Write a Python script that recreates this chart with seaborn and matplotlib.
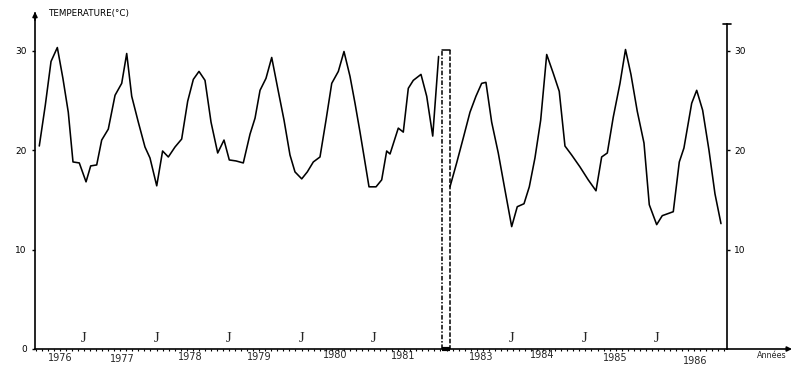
import numpy as np
import pandas as pd
import matplotlib
matplotlib.use("Agg")
import matplotlib.pyplot as plt
from matplotlib.ticker import MultipleLocator
import seaborn as sns

# ---------------- data ----------------
# segment 1976-1981 : decimal year, temperature (°C)
seg_a_time = [1975.883, 1975.966, 1976.045, 1976.132, 1976.209, 1976.283, 1976.348, 1976.435,
              1976.528, 1976.592, 1976.675, 1976.744, 1976.835, 1976.928, 1977.020, 1977.089,
              1977.158, 1977.249, 1977.341, 1977.410, 1977.503, 1977.584, 1977.663, 1977.755,
              1977.847, 1977.930, 1978.008, 1978.086, 1978.169, 1978.252, 1978.344, 1978.431,
              1978.504, 1978.597, 1978.697, 1978.790, 1978.859, 1978.928, 1979.010, 1979.089,
              1979.180, 1979.259, 1979.341, 1979.410, 1979.503, 1979.580, 1979.663, 1979.755,
              1979.838, 1979.917, 1980.008, 1980.086, 1980.169, 1980.238, 1980.307, 1980.366,
              1980.431, 1980.528, 1980.606, 1980.675, 1980.721, 1980.835, 1980.904, 1980.973,
              1981.042, 1981.148, 1981.227, 1981.310, 1981.391]
seg_a_temp = [20.4, 24.5, 28.9, 30.3, 27.2, 23.8, 18.8, 18.7,
              16.8, 18.4, 18.5, 21.0, 22.1, 25.5, 26.7, 29.7,
              25.4, 22.8, 20.3, 19.2, 16.4, 19.9, 19.3, 20.3,
              21.1, 24.9, 27.1, 27.9, 27.0, 22.8, 19.7, 21.0,
              19.0, 18.9, 18.7, 21.6, 23.2, 26.0, 27.2, 29.3,
              25.9, 23.0, 19.5, 17.8, 17.1, 17.8, 18.8, 19.3,
              23.0, 26.7, 27.9, 29.9, 27.4, 24.7, 21.8, 19.2,
              16.3, 16.3, 17.0, 19.9, 19.6, 22.2, 21.8, 26.2,
              27.0, 27.6, 25.4, 21.4, 29.4]

# segment 1982-1986
seg_b_time = [1982.645, 1982.737, 1982.828, 1982.921, 1983.003, 1983.082, 1983.141, 1983.220,
              1983.311, 1983.403, 1983.496, 1983.573, 1983.666, 1983.739, 1983.817, 1983.896,
              1983.979, 1984.070, 1984.152, 1984.231, 1984.323, 1984.438, 1984.552, 1984.659,
              1984.737, 1984.815, 1984.897, 1984.990, 1985.066, 1985.141, 1985.228, 1985.321,
              1985.394, 1985.496, 1985.573, 1985.725, 1985.808, 1985.872, 1985.979, 1986.048,
              1986.130, 1986.217, 1986.300, 1986.383]
seg_b_temp = [16.3, 18.7, 21.2, 23.8, 25.4, 26.7, 26.8, 22.8,
              19.7, 16.0, 12.3, 14.3, 14.6, 16.3, 19.2, 23.0,
              29.6, 27.7, 25.9, 20.4, 19.5, 18.3, 17.0, 15.9,
              19.3, 19.7, 23.3, 26.7, 30.1, 27.6, 23.9, 20.7,
              14.5, 12.5, 13.4, 13.8, 18.8, 20.2, 24.7, 26.0,
              24.0, 20.0, 15.6, 12.6]

GAP_YEARS = 1.097          # missing period compressed on the axis (break)

year_labels = ["1976", "1977", "1978", "1979", "1980", "1981", "1983", "1984", "1985", "1986"]
july_a = [1976.5, 1977.5, 1978.5, 1979.5, 1980.5]
july_b = [1983.5, 1984.5, 1985.5]
ytick_vals = [0, 10, 20, 30]
ytick_right = [10, 20, 30]

# ---------------- layout ----------------
year_label_x = [1976.169, 1977.024, 1977.962, 1978.914, 1979.962, 1980.900,
                1981.976, 1982.817, 1983.824, 1984.928]       # display positions
year_label_dy = [-9, -10, -8, -8, -6, -7, -8, -6, -9, -12]    # pixels below axis
X_MIN, X_MAX = 1975.824, 1985.369
X_ARROW = 1986.266
Y_MAX = 33.77
BREAK_L, BREAK_R, BREAK_TOP = 1981.431, 1981.548, 30.05
RIGHT_TOP = 32.66

sns.set_style("white")
plt.rcParams["font.family"] = ["DejaVu Sans"]

df = pd.DataFrame({
    "x": seg_a_time + [t - GAP_YEARS for t in seg_b_time],
    "temp": seg_a_temp + seg_b_temp,
    "seg": ["a"] * len(seg_a_time) + ["b"] * len(seg_b_time),
})

fig = plt.figure(figsize=(8, 3.74), dpi=100)
ax = fig.add_axes([35 / 800, 25 / 374, 692 / 800, 336 / 374])
sns.lineplot(data=df, x="x", y="temp", units="seg", estimator=None, sort=False,
             color="black", lw=1.15, ax=ax, legend=False)

ax.set_xlim(X_MIN, X_MAX)
ax.set_ylim(0, Y_MAX)
ax.set_xlabel("")
ax.set_ylabel("")

ax.spines["top"].set_visible(False)
for s in ["left", "bottom", "right"]:
    ax.spines[s].set_color("black")
    ax.spines[s].set_linewidth(1.2)
ax.spines["right"].set_bounds(0, RIGHT_TOP)

ax.set_yticks(ytick_vals)
ax.set_yticklabels([str(v) for v in ytick_vals], fontsize=6.5)
ax.tick_params(axis="y", which="major", direction="out", length=2, width=1, pad=4,
               left=True, right=False, colors="black")
ax2 = ax.twinx()
ax2.set_ylim(0, Y_MAX)
ax2.set_yticks(ytick_right)
ax2.set_yticklabels([str(v) for v in ytick_right], fontsize=6.5)
ax2.tick_params(axis="y", direction="out", length=2, width=1, pad=3, colors="black")
for s in ["top", "left", "bottom", "right"]:
    ax2.spines[s].set_visible(False)

ax.set_xticks([])
ax.xaxis.set_minor_locator(MultipleLocator(1 / 12))
ax.tick_params(axis="x", which="minor", bottom=True, direction="out", length=1.5,
               width=0.8, colors="black")

# cap of the right axis
ax.plot([X_MAX - 0.05, X_MAX + 0.05], [RIGHT_TOP, RIGHT_TOP], color="black", lw=1.2,
        clip_on=False)

# arrows
ax.annotate("", xy=(X_MIN, Y_MAX + 0.4), xytext=(X_MIN, Y_MAX - 1),
            arrowprops=dict(arrowstyle="-|>", color="black", lw=1.2, mutation_scale=7),
            annotation_clip=False)
ax.annotate("", xy=(X_ARROW, 0), xytext=(X_MAX, 0),
            arrowprops=dict(arrowstyle="-|>", color="black", lw=1.2, mutation_scale=7,
                            shrinkA=0, shrinkB=0),
            annotation_clip=False)

# break of the time axis (missing period)
ax.plot([BREAK_L, BREAK_L], [0, BREAK_TOP], color="black", lw=1.1,
        linestyle=(0, (3, 1.2, 1, 1.2)))
ax.plot([BREAK_L, BREAK_R], [BREAK_TOP, BREAK_TOP], color="black", lw=1.1)
ax.plot([BREAK_R, BREAK_R], [BREAK_TOP, 0], color="black", lw=1.1,
        linestyle=(0, (3, 1.2)))
ax.plot([BREAK_L, BREAK_R], [0, 0], color="black", lw=3, solid_capstyle="butt",
        clip_on=False)

# texts
ax.text(X_MIN + 0.18, Y_MAX - 0.1, "TEMPERATURE(°C)", fontsize=6.3, ha="left",
        va="center", color="black")
for lab, xp, dy in zip(year_labels, year_label_x, year_label_dy):
    ax.annotate(lab, xy=(xp, 0), xycoords="data", xytext=(0, dy * 0.72),
                textcoords="offset points", ha="center", va="center", fontsize=7,
                annotation_clip=False)
for xj in july_a + [t - GAP_YEARS for t in july_b]:
    ax.text(xj, 0.45, "J", fontsize=10.5, ha="center", va="bottom",
            family=["Liberation Serif"])
ax.annotate("Années", xy=(X_ARROW - 0.276, 0), xytext=(0, -7 * 0.72),
            textcoords="offset points", ha="center", va="center", fontsize=5.8,
            annotation_clip=False)

fig.savefig("out.png", dpi=100)
